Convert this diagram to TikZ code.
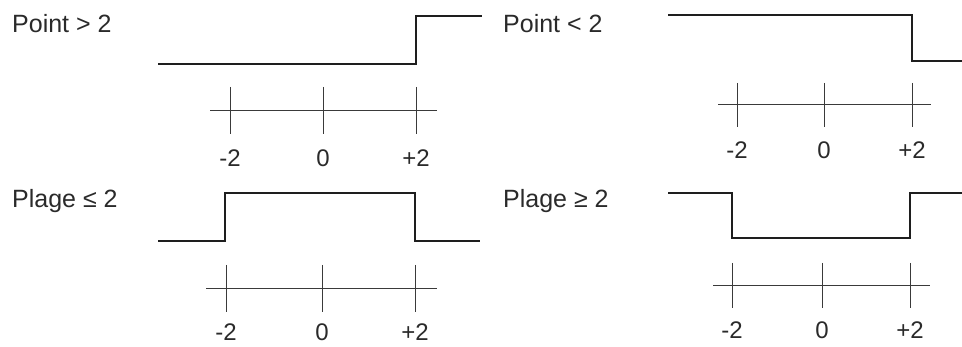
\documentclass[tikz,border=0pt]{standalone}
\usepackage{fontspec}
\setmainfont{Liberation Sans}
\usepackage{tikz}

\begin{document}
\begin{tikzpicture}[x=1pt,y=-1pt]

% Colori
\definecolor{colSig}{HTML}{1E1E1E}
\definecolor{colAxe}{HTML}{3A3A3A}
\definecolor{colTxt}{HTML}{2A2A2A}

\tikzset{
  segnale/.style={colSig, line width=1.7pt},
  asse/.style={colAxe, line width=0.8pt},
  titolo/.style={anchor=base west, inner sep=0pt, text=colTxt, font=\fontsize{25}{30}\selectfont},
  valore/.style={anchor=base, inner sep=0pt, text=colTxt, font=\fontsize{24}{28}\selectfont}
}

% Margini
\useasboundingbox (0,0) rectangle (962,347);

% Point > 2
\node[titolo] (tPtSup) at (12,33) {Point > 2};
\draw[segnale] (158,64) -- (416,64) -- (416,16) -- (482,16);
\draw[asse] (210,110) -- (437,110);
\draw[asse] (230,87) -- (230,134);
\draw[asse] (323,87) -- (323,134);
\draw[asse] (416,87) -- (416,134);
\node[valore] (aMoins) at (230,167) {-2};
\node[valore] (aZero) at (323,167) {0};
\node[valore] (aPlus) at (416,167) {+2};

% Point < 2
\node[titolo] (tPtInf) at (503,33) {Point < 2};
\draw[segnale] (668,15) -- (912,15) -- (912,61) -- (962,61);
\draw[asse] (718,104) -- (931,104);
\draw[asse] (737,83) -- (737,127);
\draw[asse] (824,83) -- (824,127);
\draw[asse] (912,83) -- (912,127);
\node[valore] (bMoins) at (737,159) {-2};
\node[valore] (bZero) at (824,159) {0};
\node[valore] (bPlus) at (912,159) {+2};

% Plage <= 2
\node[titolo] (tPlInf) at (12,208) {Plage ≤ 2};
\draw[segnale] (158,241) -- (225,241) -- (225,193) -- (415,193) -- (415,241) -- (480,241);
\draw[asse] (206,288) -- (437,288);
\draw[asse] (226,265) -- (226,312);
\draw[asse] (322,265) -- (322,312);
\draw[asse] (415,265) -- (415,312);
\node[valore] (cMoins) at (226,341) {-2};
\node[valore] (cZero) at (322,341) {0};
\node[valore] (cPlus) at (415,341) {+2};

% Plage >= 2
\node[titolo] (tPlSup) at (503,208) {Plage ≥ 2};
\draw[segnale] (668,193) -- (732,193) -- (732,238) -- (910,238) -- (910,193) -- (962,193);
\draw[asse] (713,285) -- (930,285);
\draw[asse] (732,263) -- (732,308);
\draw[asse] (822,263) -- (822,308);
\draw[asse] (910,263) -- (910,308);
\node[valore] (dMoins) at (732,339) {-2};
\node[valore] (dZero) at (822,339) {0};
\node[valore] (dPlus) at (910,339) {+2};

\end{tikzpicture}
\end{document}
